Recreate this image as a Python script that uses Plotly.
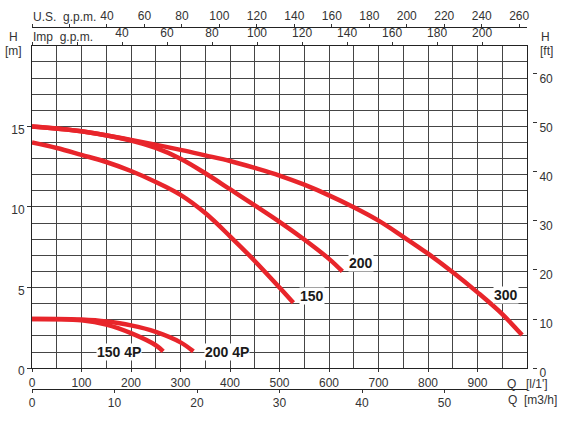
import plotly.graph_objects as go

# ---------------- data (Q in l/min, H in m) ----------------
q_300 = [0, 100, 200, 300, 350, 400, 450, 500, 550, 600, 650, 700, 750, 800, 850, 900, 950, 990]
h_300 = [15.0, 14.7, 14.16, 13.54, 13.2, 12.85, 12.42, 11.95, 11.38, 10.72, 9.98, 9.15, 8.15, 7.1, 5.95, 4.7, 3.35, 2.05]

q_200 = [0, 100, 200, 250, 300, 350, 400, 450, 500, 550, 600, 627]
h_200 = [15.0, 14.7, 14.12, 13.66, 12.99, 12.09, 11.1, 10.1, 9.08, 7.98, 6.78, 6.0]

q_150 = [0, 50, 100, 150, 200, 250, 300, 350, 400, 450, 500, 528]
h_150 = [14.0, 13.66, 13.23, 12.79, 12.23, 11.55, 10.75, 9.62, 8.18, 6.65, 5.0, 4.05]

q_200_4p = [0, 50, 100, 150, 200, 250, 300, 326]
h_200_4p = [3.05, 3.05, 3.01, 2.89, 2.65, 2.25, 1.6, 1.04]

q_150_4p = [0, 50, 100, 150, 200, 250, 265]
h_150_4p = [3.05, 3.04, 2.97, 2.7, 2.17, 1.42, 1.04]

curve_names = ["300", "200", "150", "200 4P", "150 4P"]
label_q = [958, 664, 566, 393, 175]
label_h = [4.55, 6.5, 4.5, 1.0, 1.0]

lpm_ticks = [0, 100, 200, 300, 400, 500, 600, 700, 800, 900]
m3h_ticks = [0, 10, 20, 30, 40, 50]
us_gpm_ticks = [0, 20, 40, 60, 80, 100, 120, 140, 160, 180, 200, 220, 240, 260]
imp_gpm_ticks = [0, 20, 40, 60, 80, 100, 120, 140, 160, 180, 200]
h_m_ticks = [0, 5, 10, 15]
h_ft_ticks = [0, 10, 20, 30, 40, 50, 60]

Q_MAX = 1000
H_MAX = 20
M_TO_FT = 3.28084
LPM_PER_USGPM = 3.78541
LPM_PER_IMPGPM = 4.54609

# ---------------- layout geometry ----------------
W, HH = 564, 423
L, R, T, B = 31.5, 10, 5, 5
PW = W - L - R
PH = HH - T - B


def px(x):
    return (x - L) / PW


def py(y):
    return (HH - B - y) / PH


XDOM = [0, px(527)]
YDOM = [py(379), py(47)]

RED = "#e8252b"
GRID = "#454545"
TXT = "#333333"
FONT = "Liberation Sans"
tickfont = dict(family=FONT, size=12, color=TXT)

fig = go.Figure()

series = [(q_300, h_300), (q_200, h_200), (q_150, h_150), (q_200_4p, h_200_4p), (q_150_4p, h_150_4p)]
for (qq, hh), nm in zip(series, curve_names):
    fig.add_trace(go.Scatter(x=qq, y=hh, mode="lines", name=nm,
                             line=dict(color=RED, width=4.5, shape="spline", smoothing=1.0),
                             showlegend=False, hoverinfo="skip"))

# invisible traces so secondary axes are drawn
fig.add_trace(go.Scatter(x=[0, Q_MAX * 60 / 1000], y=[0, 0], xaxis="x2", yaxis="y", mode="markers",
                         marker=dict(opacity=0), showlegend=False, hoverinfo="skip"))
fig.add_trace(go.Scatter(x=[0, Q_MAX / LPM_PER_IMPGPM], y=[0, 0], xaxis="x3", yaxis="y", mode="markers",
                         marker=dict(opacity=0), showlegend=False, hoverinfo="skip"))
fig.add_trace(go.Scatter(x=[0, Q_MAX / LPM_PER_USGPM], y=[0, 0], xaxis="x4", yaxis="y", mode="markers",
                         marker=dict(opacity=0), showlegend=False, hoverinfo="skip"))
fig.add_trace(go.Scatter(x=[0, 0], y=[0, H_MAX * M_TO_FT], xaxis="x", yaxis="y2", mode="markers",
                         marker=dict(opacity=0), showlegend=False, hoverinfo="skip"))

# curve labels
for nm, lq, lh in zip(curve_names, label_q, label_h):
    fig.add_annotation(x=lq, y=lh, xref="x", yref="y", text="<b>" + nm + "</b>", showarrow=False,
                       font=dict(family=FONT, size=14, color="#1a1a1a"), bgcolor="white", borderpad=0)

# axis titles as text
texts = [
    ("H", 13, 38, "center"), ("[m]", 13, 52, "center"),
    ("H", 545, 38, "center"), ("[ft]", 546, 52, "center"),
    ("U.S.  g.p.m.", 32, 17, "left"), ("Imp  g.p.m.", 32, 38, "left"),
    ("Q", 511, 395, "center"), ("[l/1']", 537, 395, "center"),
    ("Q  [m3/h]", 532, 412, "center"),
]
for t, x, y, anc in texts:
    fig.add_annotation(x=px(x), y=py(y), xref="paper", yref="paper", text=t, showarrow=False,
                       xanchor=anc, yanchor="middle", font=tickfont, borderpad=0)

fig.update_layout(
    width=W, height=HH,
    margin=dict(l=L, r=R, t=T, b=B, pad=0),
    paper_bgcolor="white", plot_bgcolor="white",
    xaxis=dict(domain=XDOM, range=[0, Q_MAX], tickmode="array", tickvals=lpm_ticks,
               ticks="outside", ticklen=3, tickcolor=TXT, tickfont=tickfont,
               showline=True, linecolor="#222", linewidth=1, mirror=True,
               showgrid=True, gridcolor=GRID, gridwidth=1, zeroline=False,
               minor=dict(dtick=50, tick0=0, showgrid=True, gridcolor=GRID, gridwidth=1, ticks="")),
    yaxis=dict(domain=YDOM, range=[0, H_MAX], tickmode="array", tickvals=h_m_ticks,
               ticks="outside", ticklen=4, tickcolor=TXT, tickfont=tickfont, ticklabelshift=3,
               showline=True, linecolor="#222", linewidth=1, mirror=True,
               showgrid=True, gridcolor=GRID, gridwidth=1, zeroline=False,
               minor=dict(dtick=1, tick0=0, showgrid=True, gridcolor=GRID, gridwidth=1, ticks="")),
    yaxis2=dict(overlaying="y", side="right", anchor="free", position=px(532),
                range=[0, H_MAX * M_TO_FT], tickmode="array", tickvals=h_ft_ticks,
                ticks="outside", ticklen=4, tickcolor=TXT, tickfont=tickfont, ticklabelshift=5,
                showline=False, showgrid=False, zeroline=False),
    xaxis2=dict(overlaying="x", side="bottom", anchor="free", position=py(400), domain=XDOM,
                range=[0, Q_MAX * 60 / 1000], tickmode="array", tickvals=m3h_ticks,
                ticks="outside", ticklen=3, tickcolor=TXT, tickfont=tickfont,
                showline=True, linecolor="#222", linewidth=1, showgrid=False, zeroline=False),
    xaxis3=dict(overlaying="x", side="top", anchor="y", domain=XDOM,
                range=[0, Q_MAX / LPM_PER_IMPGPM], tickmode="array", tickvals=imp_gpm_ticks,
                ticktext=["" if v < 40 else str(v) for v in imp_gpm_ticks],
                ticks="outside", ticklen=3, tickcolor=TXT, tickfont=tickfont,
                showline=False, showgrid=False, zeroline=False),
    xaxis4=dict(overlaying="x", side="top", anchor="free", position=py(28), domain=XDOM,
                range=[0, Q_MAX / LPM_PER_USGPM], tickmode="array", tickvals=us_gpm_ticks,
                ticktext=["" if v < 40 else str(v) for v in us_gpm_ticks],
                ticks="outside", ticklen=3, tickcolor=TXT, tickfont=tickfont,
                showline=True, linecolor="#222", linewidth=1, showgrid=False, zeroline=False),
)

fig.write_html("out.html")
